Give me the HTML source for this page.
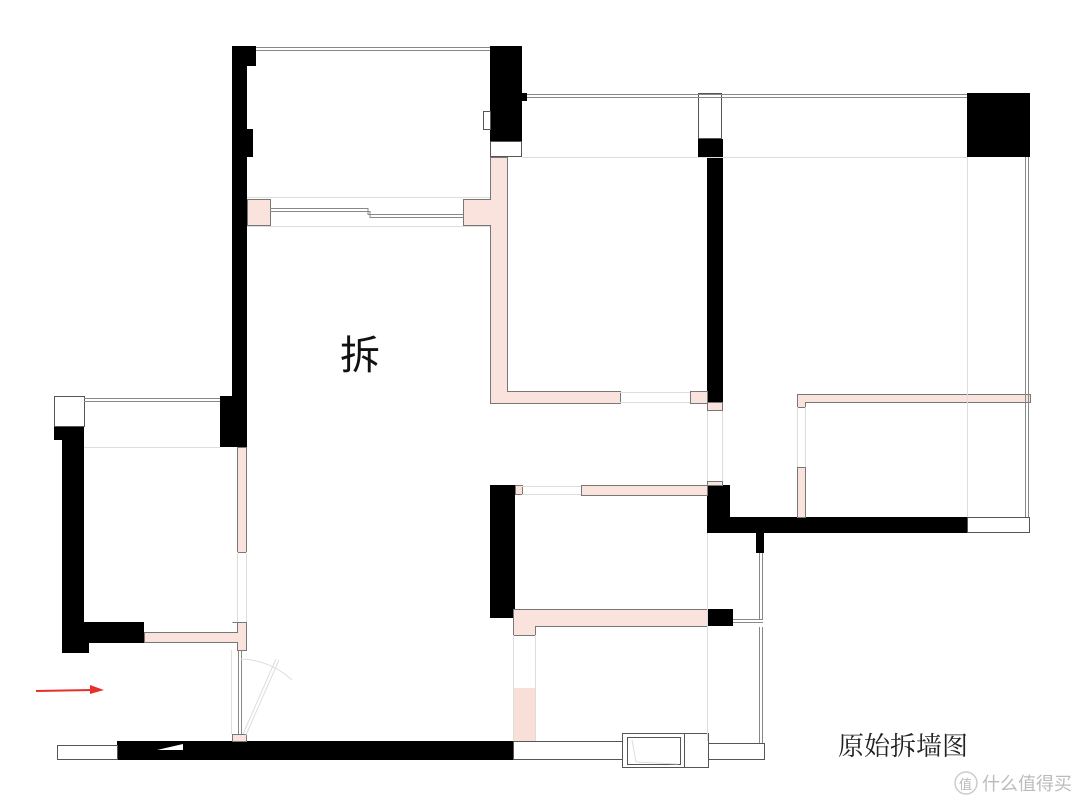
<!DOCTYPE html>
<html><head><meta charset="utf-8"><style>
html,body{margin:0;padding:0;background:#fff;}
svg{display:block}
</style></head><body>
<svg width="1080" height="807" viewBox="0 0 1080 807" xmlns="http://www.w3.org/2000/svg">
<g fill="#000" stroke="none">
<!-- top-left room -->
<rect x="232" y="46" width="24" height="20"/>
<rect x="232" y="46" width="15" height="400"/>
<rect x="232" y="129" width="21" height="28"/>
<rect x="220" y="396" width="27" height="51"/>
<rect x="490" y="46" width="32" height="95"/>
<rect x="522" y="93" width="5" height="8"/>
<!-- left room -->
<rect x="54" y="427" width="30" height="13"/>
<rect x="62" y="427" width="22" height="226"/>
<rect x="62" y="622" width="82" height="21"/>
<rect x="62" y="622" width="27" height="31"/>
<!-- bottom -->
<rect x="117" y="741" width="396" height="19"/>
<!-- right -->
<rect x="698" y="139" width="24" height="18"/>
<rect x="707" y="139" width="16" height="263"/>
<rect x="967" y="93" width="63" height="64"/>
<rect x="490" y="485" width="25" height="133"/>
<rect x="707" y="485" width="23" height="48"/>
<rect x="707" y="517" width="260" height="16"/>
<rect x="756" y="533" width="8" height="20"/>
<rect x="707" y="609" width="26" height="17"/>
</g>
<polygon points="157,750 183,744 183,750" fill="#fff"/>
<g fill="#fff" stroke="#555" stroke-width="1">
<rect x="490.5" y="141.5" width="31" height="15"/>
<rect x="483.5" y="111.5" width="7" height="18"/>
<rect x="54.5" y="396.5" width="30" height="30"/>
<rect x="698.5" y="93.5" width="23" height="45"/>
<rect x="967.5" y="517.5" width="62" height="15"/>
<rect x="57.5" y="745.5" width="60" height="14"/>
<rect x="513.5" y="741.5" width="109" height="18"/>
<rect x="708.5" y="743.5" width="56" height="16"/>
<rect x="684.5" y="733.5" width="24" height="34"/>
<rect x="622.5" y="733.5" width="62" height="34"/>
<rect x="627.5" y="737.5" width="53" height="27"/>
</g>
<g fill="#fae3dc" stroke="#777" stroke-width="1">
<polygon points="490.5,157.5 507.5,157.5 507.5,391.5 620.5,391.5 620.5,403.5 490.5,403.5 490.5,225.5 463.5,225.5 463.5,199.5 490.5,199.5"/>
<rect x="690.5" y="391.5" width="17" height="12"/>
<rect x="247.5" y="199.5" width="23" height="26"/>
<rect x="237.5" y="447.5" width="9" height="105"/>
<polygon points="232.5,622.5 246.5,622.5 246.5,650.5 237.5,650.5 237.5,642.5 144.5,642.5 144.5,632.5 237.5,632.5 237.5,622.5"/>
<rect x="232.5" y="734.5" width="14" height="7"/>
<rect x="707.5" y="402.5" width="15" height="8"/>
<polygon points="797.5,394.5 1030.5,394.5 1030.5,402.5 805.5,402.5 805.5,407.5 797.5,407.5"/>
<rect x="797.5" y="467.5" width="8" height="50"/>
<rect x="707.5" y="481.5" width="15" height="4"/>
<rect x="515.5" y="485.5" width="7" height="9"/>
<rect x="581.5" y="485.5" width="126" height="10"/>
<polygon points="513.5,609.5 707.5,609.5 707.5,626.5 535.5,626.5 535.5,635.5 513.5,635.5"/>
</g>
<rect x="513" y="688" width="22" height="53" fill="#f8e0d8"/>
<!-- windows -->
<g fill="none" stroke="#888" stroke-width="1">
<line x1="256" y1="47.5" x2="490" y2="47.5"/><line x1="256" y1="50.5" x2="490" y2="50.5"/>
<line x1="527" y1="94.5" x2="967" y2="94.5"/><line x1="527" y1="97.5" x2="967" y2="97.5"/>
<line x1="1025.5" y1="157" x2="1025.5" y2="517"/><line x1="1028.5" y1="157" x2="1028.5" y2="517"/>
<line x1="84" y1="398.5" x2="220" y2="398.5"/><line x1="84" y1="401.5" x2="220" y2="401.5"/>
<polyline points="270,208.5 368,208.5 368,214.5 463,214.5"/><polyline points="270,211.5 370,211.5 370,217.5 463,217.5"/>
<line x1="759.5" y1="553" x2="759.5" y2="620"/><line x1="762.5" y1="553" x2="762.5" y2="620"/>
<polyline points="733,619.5 762,619.5"/><polyline points="733,622.5 763,622.5"/>
<line x1="759.5" y1="627" x2="759.5" y2="743"/><line x1="762.5" y1="627" x2="762.5" y2="743"/>
<line x1="238.5" y1="650" x2="238.5" y2="734"/><line x1="241.5" y1="650" x2="241.5" y2="734"/>
</g>
<g fill="none" stroke="#ddd" stroke-width="1">
<line x1="247" y1="197.5" x2="490" y2="197.5"/><line x1="247" y1="226.5" x2="490" y2="226.5"/>
<line x1="522" y1="157.5" x2="967" y2="157.5"/>
<line x1="967.5" y1="157" x2="967.5" y2="517"/>
<line x1="84" y1="447.5" x2="220" y2="447.5"/>
<line x1="237.5" y1="552" x2="237.5" y2="622"/><line x1="246.5" y1="552" x2="246.5" y2="622"/>
<line x1="707.5" y1="411" x2="707.5" y2="481"/><line x1="722.5" y1="411" x2="722.5" y2="481"/>
<line x1="707.5" y1="533" x2="707.5" y2="741"/>
<line x1="620" y1="392.5" x2="690" y2="392.5"/><line x1="620" y1="402.5" x2="690" y2="402.5"/>
<line x1="522" y1="486.5" x2="581" y2="486.5"/><line x1="522" y1="494.5" x2="581" y2="494.5"/>
<line x1="513.5" y1="635" x2="513.5" y2="741"/><line x1="535.5" y1="635" x2="535.5" y2="741"/>
<line x1="797.5" y1="407" x2="797.5" y2="467"/><line x1="805.5" y1="407" x2="805.5" y2="467"/>
<line x1="231.5" y1="650" x2="231.5" y2="734"/>
<path d="M241 659 A78 78 0 0 1 292 680"/>
<line x1="243" y1="734" x2="276" y2="659"/><line x1="246" y1="735" x2="279" y2="660"/>
<line x1="632" y1="740" x2="636" y2="762"/><line x1="636" y1="762" x2="678" y2="764"/>
</g>
<!-- red arrow -->
<line x1="36" y1="691" x2="92" y2="690" stroke="#e8302a" stroke-width="2"/>
<polygon points="90,685 104,690 90,694" fill="#e8302a"/>
<text x="340" y="369" font-family="'Liberation Sans','Noto Sans CJK SC',sans-serif" font-size="40" fill="#111">拆</text>
<text x="838" y="755" font-family="'Liberation Serif','Noto Serif CJK SC',serif" font-size="26" fill="#222">原始拆墙图</text>
<circle cx="966" cy="783" r="11" fill="none" stroke="#ccc" stroke-width="1.5"/>
<text x="959" y="789" font-family="'Noto Sans CJK SC',sans-serif" font-size="13" fill="#bbb">值</text>
<text x="982" y="790" font-family="'Noto Sans CJK SC',sans-serif" font-size="18" fill="#bbb">什么值得买</text>
</svg>
</body></html>
